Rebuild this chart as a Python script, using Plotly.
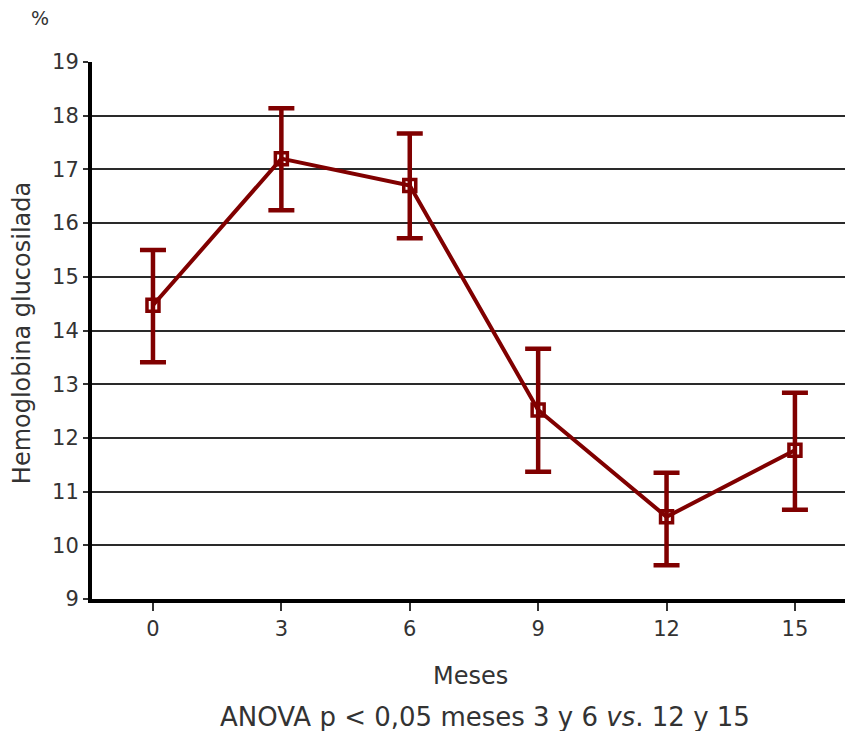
import plotly.graph_objects as go

meses = [0, 3, 6, 9, 12, 15]
hba1c = [14.47, 17.2, 16.7, 12.52, 10.53, 11.77]
err_plus = [1.03, 0.94, 0.97, 1.14, 0.82, 1.07]
err_minus = [1.06, 0.96, 0.98, 1.15, 0.9, 1.11]

color = "#800000"
font = "DejaVu Sans"
txt = "#333333"

fig = go.Figure()
fig.add_trace(go.Scatter(
    x=meses, y=hba1c, mode="lines+markers",
    line=dict(color=color, width=4),
    marker=dict(symbol="square-open", size=12, color=color, line=dict(color=color, width=3.5)),
    error_y=dict(type="data", symmetric=False, array=err_plus, arrayminus=err_minus,
                 color=color, thickness=4.5, width=13),
    showlegend=False,
))

fig.update_layout(
    width=845, height=731,
    margin=dict(l=92, r=0, t=62, b=132),
    plot_bgcolor="white", paper_bgcolor="white",
    font=dict(family=font, size=21, color=txt),
    xaxis=dict(
        range=[-1.425, 16.17], tickvals=meses, ticktext=[str(m) for m in meses],
        showgrid=False, zeroline=False, showline=True, linecolor="black", linewidth=4,
        ticks="outside", ticklen=8, tickwidth=2, tickcolor=txt,
        tickfont=dict(size=21),
    ),
    yaxis=dict(
        range=[9, 19], dtick=1, showgrid=True, gridcolor="#2a2a2a", gridwidth=1.5,
        zeroline=False, showline=True, linecolor="black", linewidth=4,
        ticks="outside", ticklen=5, tickwidth=2, tickcolor=txt,
        tickfont=dict(size=21),
    ),
)

fig.add_annotation(text="%", xref="paper", yref="paper", x=-0.0691, y=1.0819,
                   showarrow=False, font=dict(size=19, color=txt), xanchor="center", yanchor="middle")
fig.add_annotation(text="Hemoglobina glucosilada", xref="paper", yref="paper", x=-0.093, y=0.495,
                   textangle=-90, showarrow=False, font=dict(size=24, color=txt),
                   xanchor="center", yanchor="middle")
fig.add_annotation(text="Meses", xref="paper", yref="paper", x=0.502, y=-0.1434,
                   showarrow=False, font=dict(size=24, color=txt), xanchor="center", yanchor="middle")
fig.add_annotation(text="ANOVA p &lt; 0,05 meses 3 y 6 <i>vs</i>. 12 y 15", xref="paper", yref="paper",
                   x=0.522, y=-0.2197, showarrow=False,
                   font=dict(size=26, color=txt), xanchor="center", yanchor="middle")

fig.write_html("out.html", config={"displayModeBar": False},
               post_script="document.body.style.margin='0';")
